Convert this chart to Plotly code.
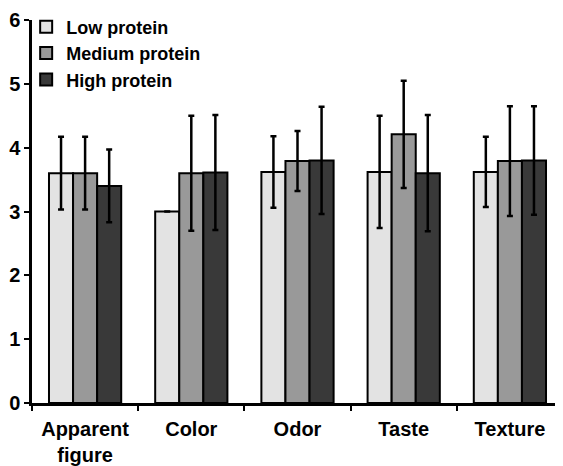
import plotly.graph_objects as go

categories = ["Apparent<br>figure", "Color", "Odor", "Taste", "Texture"]
series_names = ["Low protein", "Medium protein", "High protein"]
low_vals = [3.6, 3.0, 3.62, 3.62, 3.62]
low_err = [0.57, None, 0.56, 0.88, 0.55]
med_vals = [3.6, 3.6, 3.79, 4.21, 3.79]
med_err = [0.57, 0.9, 0.47, 0.84, 0.86]
high_vals = [3.4, 3.61, 3.8, 3.6, 3.8]
high_err = [0.57, 0.9, 0.84, 0.91, 0.85]
colors = ["#e3e3e3", "#999999", "#393939"]
y_ticks = [0, 1, 2, 3, 4, 5, 6]

FONT = "Liberation Sans, Arial, sans-serif"

fig = go.Figure()
for name, vals, errs, col in zip(series_names, [low_vals, med_vals, high_vals],
                                 [low_err, med_err, high_err], colors):
    fig.add_trace(go.Bar(
        x=categories, y=vals, name=name,
        marker=dict(color=col, line=dict(color="black", width=2)),
        error_y=dict(type="data", array=errs, visible=True,
                     color="black", thickness=2.5, width=3),
    ))

# page body has an 8px default margin; size the figure so the plot area lands
# where the reference has it
fig.update_layout(
    width=555, height=458,
    margin=dict(l=24, r=0, t=9, b=63),
    paper_bgcolor="white", plot_bgcolor="white",
    barmode="group", bargap=0.32, bargroupgap=0,
    font=dict(family=FONT, size=20, color="black", weight="bold"),
    showlegend=True,
    legend=dict(x=-0.011, y=1.03, xanchor="left", yanchor="top",
                bgcolor="rgba(0,0,0,0)",
                font=dict(family=FONT, size=18, color="black", weight="bold"),
                tracegroupgap=0),
    xaxis=dict(type="category", showline=True, linecolor="black", linewidth=2.5,
               ticks="outside", tickson="boundaries", ticklen=5, tickwidth=2,
               tickcolor="black", showgrid=False, zeroline=False,
               range=[-0.5, 4.5], ticklabelstandoff=6,
               tickfont=dict(family=FONT, size=20, color="black", weight="bold")),
    yaxis=dict(range=[0, 6], tickvals=y_ticks, showline=True, linecolor="black",
               linewidth=2.5, ticks="outside", ticklen=5, tickwidth=2,
               tickcolor="black", showgrid=False, zeroline=False,
               tickfont=dict(family=FONT, size=20, color="black", weight="bold")),
)

fig.write_html("out.html")
